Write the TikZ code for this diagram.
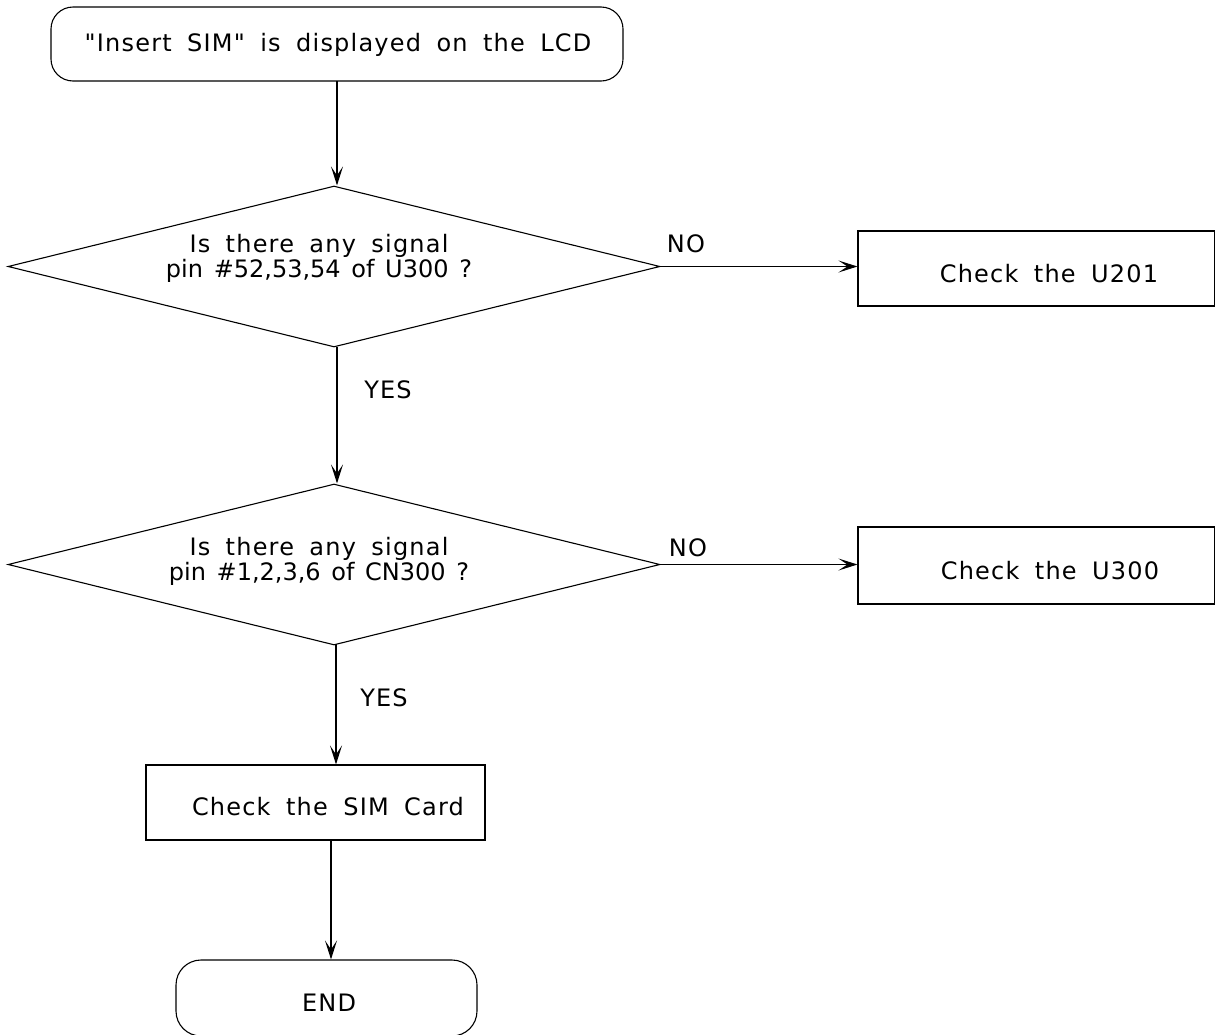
\documentclass[tikz,border=0pt]{standalone}
\usepackage{fontspec}
\setmainfont{DejaVu Sans}[Ligatures=TeXOff,LetterSpace=5,WordSpace=1.75]
\newfontfamily\narrowfont{DejaVu Sans}[Ligatures=TeXOff,LetterSpace=0,WordSpace=1.4]
\usetikzlibrary{shapes.geometric,arrows.meta}
\begin{document}
\begin{tikzpicture}[x=1pt,y=-1pt,
  every node/.style={font=\fontsize{24}{25}\selectfont, inner sep=0pt},
  line/.style={line width=1.1pt, draw=black},
  arr/.style={line, -{Stealth[length=19pt,width=12pt,inset=9pt]}},
  term/.style={line, rounded corners=22pt, rectangle},
  procbox/.style={line, rectangle},
  diam/.style={line, diamond, aspect=4.05, minimum width=652pt, minimum height=161pt}]
\useasboundingbox (0,0) rectangle (1215,1034);
% nodes
\node[term, minimum width=572pt, minimum height=74pt] (start) at (337,44) {};
\node (starttxt) at (338,45) {"Insert SIM" is displayed on the LCD};
\node[diam] (d1) at (334,266.5) {};
\node[align=center] (d1txt) at (319,258) {Is there any signal\\ {\narrowfont pin \#52,53,54 of U300 ?}};
\node[procbox, minimum width=357pt, minimum height=75pt] (b1) at (1036.5,268.5) {};
\node (b1txt) at (1049,274) {Check the U201};
\node[diam] (d2) at (334,564.5) {};
\node[align=center] (d2txt) at (319,561) {Is there any signal\\ {\narrowfont pin \#1,2,3,6 of CN300 ?}};
\node[procbox, minimum width=357pt, minimum height=77pt] (b2) at (1036.5,565.5) {};
\node (b2txt) at (1050,571) {Check the U300};
\node[procbox, minimum width=339pt, minimum height=75pt] (sim) at (315.5,802.5) {};
\node (simtxt) at (328,807) {Check the SIM Card};
\node[term, rounded corners=25pt, minimum width=301pt, minimum height=76pt] (end) at (326.5,998) {};
\node (endtxt) at (329,1003) {END};
% labels
\node (no1) at (686,244) {NO};
\node (no2) at (688,548) {NO};
\node (yes1) at (388,390) {YES};
\node (yes2) at (384,698) {YES};
% connectors
\coordinate (c1) at (337,81);
\draw[arr] (c1) -- (c1|-d1.north);
\draw[arr] (d1.east) -- (b1.west|-d1.east);
\coordinate (c2) at (337,347);
\draw[arr] (c2) -- (c2|-d2.north);
\draw[arr] (d2.east) -- (b2.west|-d2.east);
\coordinate (c3) at (336,644);
\draw[arr] (c3) -- (c3|-sim.north);
\coordinate (c4) at (331,840);
\draw[arr] (c4) -- (c4|-end.north);
\end{tikzpicture}
\end{document}
